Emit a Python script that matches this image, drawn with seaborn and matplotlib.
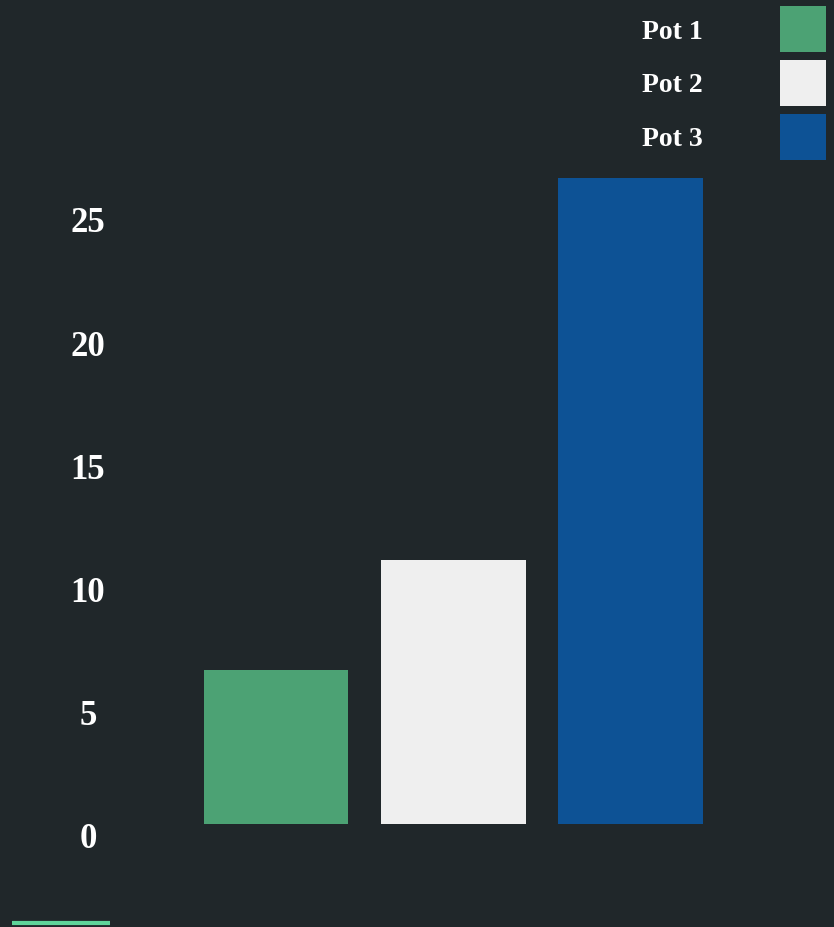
"""Bar chart of three pots on a dark background, with a right-side legend."""

import matplotlib.pyplot as plt
import matplotlib.transforms as mtransforms
import seaborn as sns
from matplotlib.lines import Line2D

pots = ["Pot 1", "Pot 2", "Pot 3"]
values = [6.25, 10.7, 26.2]
colors = ["#4ca274", "#efefef", "#0d5295"]
yticks = [0, 5, 10, 15, 20, 25]

BG = "#20272a"
TEXT = "#ffffff"

sns.set_theme(style="dark")
plt.rcParams["font.family"] = ["Liberation Serif", "DejaVu Serif"]
plt.rcParams["font.weight"] = "bold"

fig = plt.figure(figsize=(8.34, 9.28), dpi=100, facecolor=BG)
# axes spans px 120..790 horizontally, 170..825 vertically
ax = fig.add_axes([120 / 834, 103 / 928, 670 / 834, 655 / 928])
ax.set_facecolor(BG)

sns.barplot(x=pots, y=values, hue=pots, palette=colors, width=0.817,
            saturation=1, legend=False, linewidth=0, ax=ax)

ax.set_xlim(-0.88, 2.90)
ax.set_ylim(0, 26.58)
ax.set_xticks([])
ax.set_yticks(yticks)
ax.set_yticklabels([str(t) for t in yticks])
ax.tick_params(axis="y", length=0, pad=23, labelsize=25, labelcolor=TEXT)
ax.grid(False)
for s in ax.spines.values():
    s.set_visible(False)

# labels sit a little below their tick value in the reference
offset = mtransforms.ScaledTranslation(0, -11 / 100, fig.dpi_scale_trans)
for lab in ax.get_yticklabels():
    lab.set_ha("center")
    lab.set_fontweight("bold")
    lab.set_transform(lab.get_transform() + offset)

leg = fig.legend(
    ax.patches[:3], pots,
    loc="upper right", bbox_to_anchor=(826 / 834, 1 - 7 / 928),
    frameon=False, markerfirst=False, borderpad=0, borderaxespad=0,
    fontsize=20, handlelength=1.65, handleheight=2.15,
    handletextpad=2.8, labelspacing=0.3,
)
for t in leg.get_texts():
    t.set_color(TEXT)
    t.set_fontweight("bold")
for h in leg.legend_handles:
    h.set_linewidth(0)

# small accent line at the bottom left
fig.add_artist(Line2D([12 / 834, 110 / 834], [4 / 928, 4 / 928],
                      color="#5fd49a", linewidth=3, solid_capstyle="butt",
                      transform=fig.transFigure))

fig.savefig("out.png", dpi=100, facecolor=BG)
